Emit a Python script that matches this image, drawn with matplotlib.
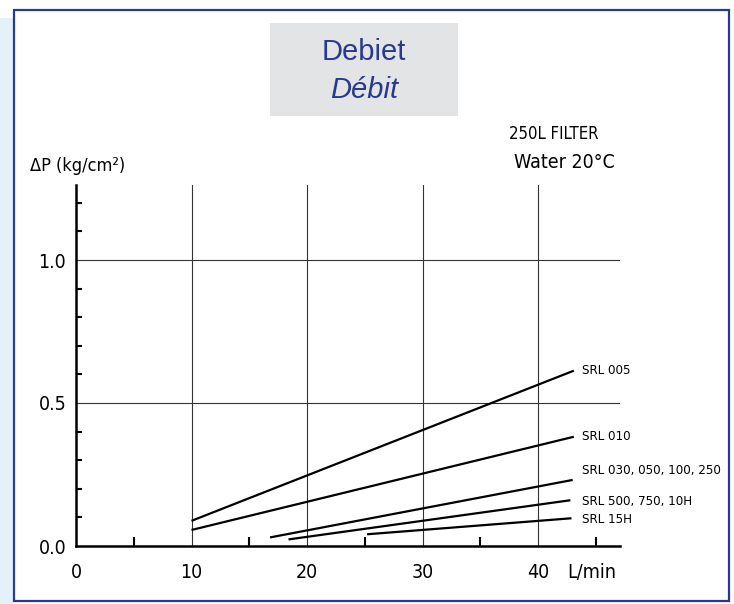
import matplotlib.pyplot as plt
from matplotlib.patches import Rectangle

# flow (L/min) and pressure drop (kg/cm2), start and end point of each curve
labels = ['SRL 005', 'SRL 010', 'SRL 030, 050, 100, 250', 'SRL 500, 750, 10H', 'SRL 15H']
flow_start = [10.0, 10.0, 16.8, 18.4, 25.2]
flow_end = [43.1, 43.1, 43.0, 42.8, 42.9]
dp_start = [0.088, 0.056, 0.030, 0.023, 0.041]
dp_end = [0.613, 0.382, 0.231, 0.160, 0.097]
label_y = [0.613, 0.382, 0.263, 0.157, 0.092]

x_major = [0, 10, 20, 30, 40]
x_minor = [5, 15, 25, 35, 45]
y_major = [0.0, 0.5, 1.0]
y_minor = [0.1, 0.2, 0.3, 0.4, 0.6, 0.7, 0.8, 0.9, 1.1, 1.2]

cond = dict(family='DejaVu Sans', stretch='condensed')
navy = '#2a3990'

W, H = 734, 604
fig = plt.figure(figsize=(W / 100, H / 100), dpi=100)

# background pieces: light blue strip, frame, grey title box
fig.patches.append(Rectangle((0, 0), 14 / W, (H - 18) / H, transform=fig.transFigure,
                             facecolor='#e2f1fa', edgecolor='none', zorder=0))
fig.patches.append(Rectangle((14 / W, 3 / H), 715 / W, 591 / H, transform=fig.transFigure,
                             facecolor='white', edgecolor=navy, lw=1.6, zorder=1))
fig.patches.append(Rectangle((270 / W, (H - 116) / H), 188 / W, 93 / H, transform=fig.transFigure,
                             facecolor='#e3e4e6', edgecolor='none', zorder=2))
fig.text(364 / W, 1 - 52 / H, 'Debiet', ha='center', va='center', fontsize=21,
         color=navy, family='Liberation Sans')
fig.text(364 / W, 1 - 90 / H, 'Débit', ha='center', va='center', fontsize=21,
         color=navy, family='Liberation Sans', style='italic')

fig.text(554 / W, 1 - 134 / H, '250L FILTER', ha='center', va='center', fontsize=12, **cond)
fig.text(564 / W, 1 - 163 / H, 'Water 20°C', ha='center', va='center', fontsize=14, **cond)
fig.text(78 / W, 1 - 166 / H, 'ΔP (kg/cm²)', ha='center', va='center', fontsize=13, **cond)

ax = fig.add_axes([76 / W, (H - 546) / H, 544 / W, 361 / H], zorder=3)
ax.patch.set_alpha(0)
ax.set_xlim(0, 544 / 11.55)
ax.set_ylim(0, 361 / 286)

for s in ['top', 'right']:
    ax.spines[s].set_visible(False)
for s in ['left', 'bottom']:
    ax.spines[s].set_linewidth(1.8)

for xv in x_major[1:]:
    ax.axvline(xv, color='#333333', lw=0.8, zorder=1)
for yv in y_major[1:]:
    ax.axhline(yv, color='#333333', lw=0.8, zorder=1)

ax.set_xticks(x_major)
ax.set_xticklabels([str(v) for v in x_major], fontsize=14, **cond)
ax.set_xticks(x_minor, minor=True)
ax.set_yticks(y_major)
ax.set_yticklabels(['%.1f' % v for v in y_major], fontsize=14, **cond)
ax.set_yticks(y_minor, minor=True)
ax.tick_params(axis='x', which='major', length=0, pad=12)
ax.tick_params(axis='x', which='minor', direction='in', length=6.5, width=1.5)
ax.tick_params(axis='y', which='major', length=0, pad=7)
ax.tick_params(axis='y', which='minor', direction='in', length=4.5, width=1.5)

for i, lab in enumerate(labels):
    ax.plot([flow_start[i], flow_end[i]], [dp_start[i], dp_end[i]], color='black', lw=1.6,
            solid_capstyle='butt', zorder=4)
    ax.text(43.8, label_y[i], lab, ha='left', va='center', fontsize=9.5, **cond)

ax.text(42.5, -0.091, 'L/min', ha='left', va='center', fontsize=14, **cond)

fig.savefig('out.png', dpi=100)
